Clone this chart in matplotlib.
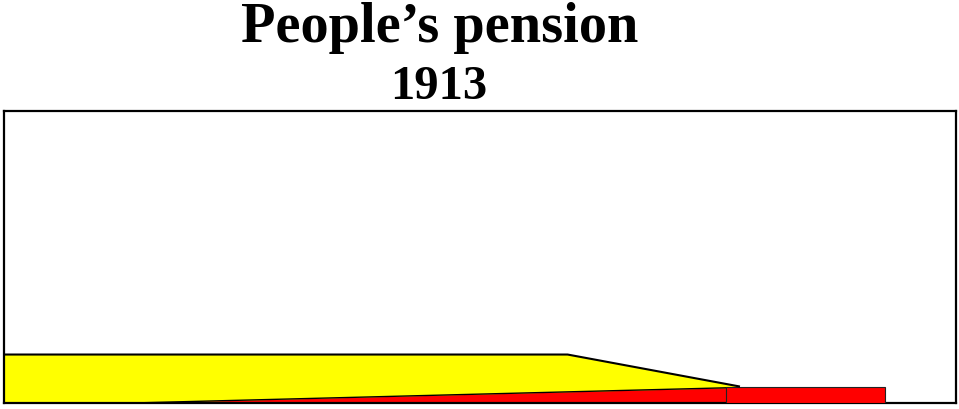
import matplotlib
matplotlib.use("Agg")
import matplotlib.pyplot as plt

# Data (arbitrary units on 0-100 scale)
yellow_x = [0, 59.2, 77.2]
yellow_top = [16.6, 16.6, 5.7]
red_x = [0, 13.5, 75.8]
red_top = [0, 0, 5.2]
red_bar_start = 75.8
red_bar_end = 92.5
red_bar_height = 5.6
title_line1 = "People\u2019s pension"
title_line2 = "1913"

W, H = 959, 409
fig = plt.figure(figsize=(W / 100, H / 100), dpi=100)
ax = fig.add_axes([4 / W, 6 / H, 952 / W, 292 / H])
ax.set_xlim(0, 100)
ax.set_ylim(0, 100)
ax.set_xticks([])
ax.set_yticks([])
for s in ax.spines.values():
    s.set_linewidth(1.6)
    s.set_color("black")

ax.fill_between(yellow_x, 0, yellow_top, color="#ffff00", linewidth=0, zorder=1)
ax.plot(yellow_x, yellow_top, color="black", linewidth=1.5, zorder=4)
ax.fill_between(red_x, 0, red_top, color="#ff0000", linewidth=0, zorder=2)
ax.plot(red_x, red_top, color="black", linewidth=1.0, zorder=4)
ax.bar([red_bar_start], [red_bar_height], width=red_bar_end - red_bar_start,
       align="edge", color="#ff0000", edgecolor="#222222", linewidth=0.8, zorder=3)

fig.text(440 / W, 1 - 42 / H, title_line1, ha="center", va="baseline",
         fontsize=40.5, fontweight="bold", family="Liberation Serif")
fig.text(439 / W, 1 - 99 / H, title_line2, ha="center", va="baseline",
         fontsize=35, fontweight="bold", family="Liberation Serif")

fig.savefig("out.png", dpi=100)
